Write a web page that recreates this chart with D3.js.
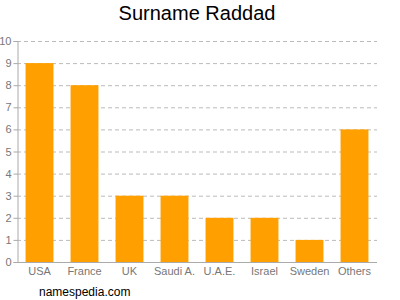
<!DOCTYPE html>
<html>
<head>
<meta charset="utf-8">
<script src="https://cdn.jsdelivr.net/npm/d3@7"></script>
<style>
body { margin: 0; background: #fff; }
svg { font-family: Arial, "Liberation Sans", sans-serif; }
</style>
</head>
<body>
<div id="chart"></div>
<script>
const countries = ['USA', 'France', 'UK', 'Saudi A.', 'U.A.E.', 'Israel', 'Sweden', 'Others']
const counts = [9, 8, 3, 3, 2, 2, 1, 6]
const yTicks = [0, 1, 2, 3, 4, 5, 6, 7, 8, 9, 10]

const width = 400, height = 300
const plotLeft = 17, plotRight = 377, plotTop = 41, plotBottom = 262

const svg = d3.select('#chart').append('svg')
  .attr('width', width)
  .attr('height', height)

const x = d3.scaleBand().domain(countries).range([plotLeft, plotRight]).paddingInner(0.38).paddingOuter(0.19)
const y = d3.scaleLinear().domain([0, 10]).range([plotBottom, plotTop])

// grid
svg.append('g')
  .selectAll('line')
  .data(yTicks.filter(t => t > 0))
  .enter()
  .append('line')
  .attr('x1', plotLeft).attr('x2', plotRight)
  .attr('y1', d => y(d) + 0.5).attr('y2', d => y(d) + 0.5)
  .attr('stroke', '#bbb')
  .attr('stroke-dasharray', '4,3')

// bars
svg.append('g')
  .selectAll('rect')
  .data(countries)
  .enter()
  .append('rect')
  .attr('x', d => x(d))
  .attr('y', (d, i) => y(counts[i]))
  .attr('width', x.bandwidth())
  .attr('height', (d, i) => plotBottom - y(counts[i]))
  .attr('fill', '#ffa000')

// y axis
const yAxis = svg.append('g')
  .attr('transform', `translate(${plotLeft + 0.5},0)`)
  .call(d3.axisLeft(y).tickValues(yTicks).tickSize(4).tickPadding(2))
yAxis.select('.domain').attr('stroke', '#aaa')
yAxis.selectAll('.tick line').attr('stroke', '#aaa')
yAxis.selectAll('.tick text').attr('fill', '#777').attr('font-size', 11)

// x axis
const xAxis = svg.append('g')
  .attr('transform', `translate(0,${plotBottom + 0.5})`)
  .call(d3.axisBottom(x).tickSize(0).tickPadding(5))
xAxis.select('.domain').attr('stroke', '#aaa').attr('d', `M${plotLeft},0H${plotRight}`)
xAxis.selectAll('.tick text').attr('fill', '#777').attr('font-size', 11)

svg.append('text')
  .attr('x', 197).attr('y', 20)
  .attr('text-anchor', 'middle')
  .attr('font-size', 20)
  .attr('fill', '#000')
  .text('Surname Raddad')

svg.append('text')
  .attr('x', 39).attr('y', 296)
  .attr('font-size', 12)
  .attr('fill', '#000')
  .text('namespedia.com')
</script>
</body>
</html>
